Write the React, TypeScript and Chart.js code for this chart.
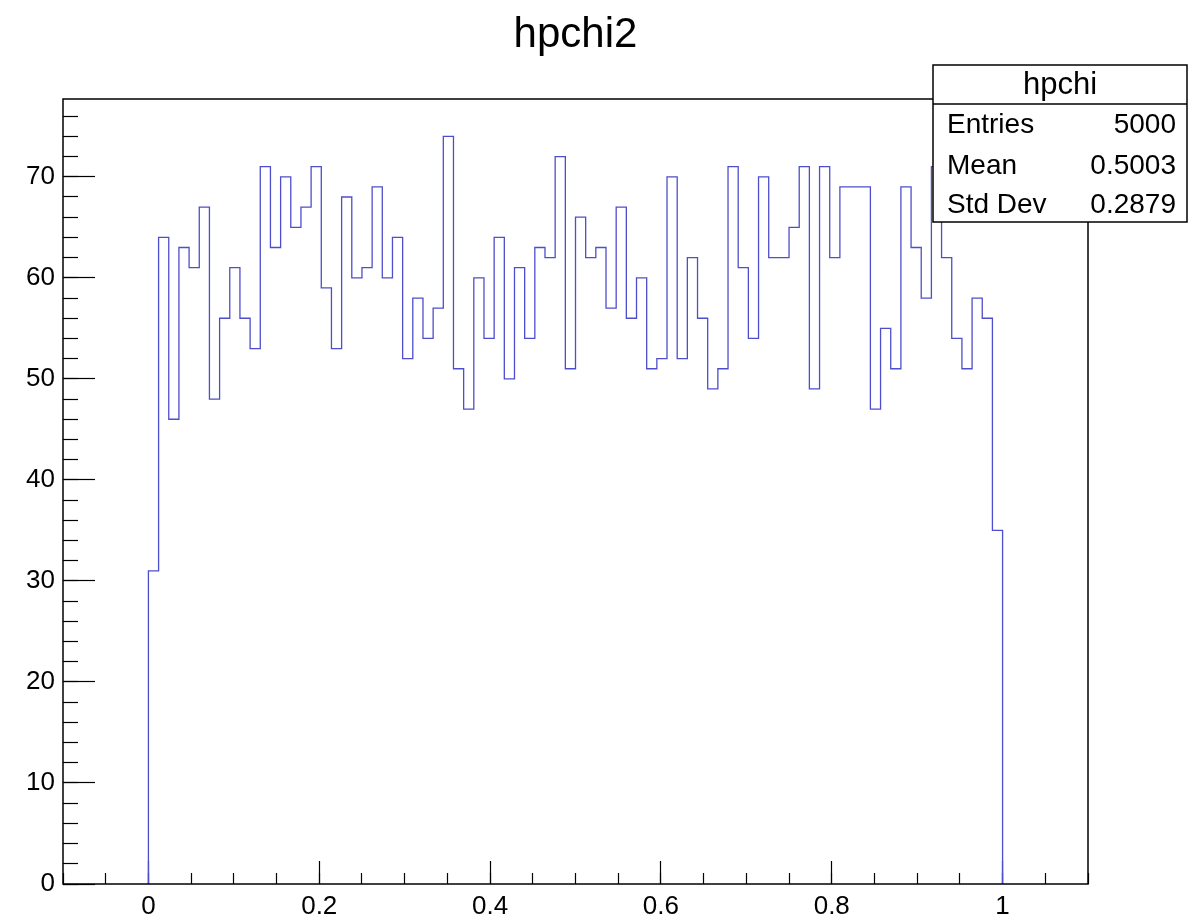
import React, { useEffect, useRef } from 'react';
import { Chart, registerables } from 'chart.js';

Chart.register(...registerables);

// ---- data ----
const histTitle = 'hpchi2';
const histName = 'hpchi';
const binLow = 0;
const binHigh = 1;
const binCounts = [
  31, 64, 46, 63, 61, 67, 48, 56, 61, 56,
  53, 71, 63, 70, 65, 67, 71, 59, 53, 68,
  60, 61, 69, 60, 64, 52, 58, 54, 57, 74,
  51, 47, 60, 54, 64, 50, 61, 54, 63, 62,
  72, 51, 66, 62, 63, 57, 67, 56, 60, 51,
  52, 70, 52, 62, 56, 49, 51, 71, 61, 54,
  70, 62, 62, 65, 71, 49, 71, 62, 69, 69,
  69, 47, 55, 51, 69, 63, 58, 71, 62, 54,
  51, 58, 56, 35,
];
const statsLabels = ['Entries', 'Mean', 'Std Dev'];
const statsValues = ['5000', '0.5003', '0.2879'];

const xRange = [-0.1, 1.1];
const yRange = [0, 77.7];
const xMajorTicks = [0, 0.2, 0.4, 0.6, 0.8, 1];
const xMinorStep = 0.05;
const yMajorTicks = [0, 10, 20, 30, 40, 50, 60, 70];
const yMinorStep = 2;

const FONT = '"Liberation Sans", Arial, Helvetica, sans-serif';
const LINE_COLOR = 'rgb(78, 78, 204)';

function stepTicks(lo: number, hi: number, step: number) {
  const out: { value: number }[] = [];
  const n0 = Math.ceil(lo / step - 1e-9);
  const n1 = Math.floor(hi / step + 1e-9);
  for (let n = n0; n <= n1; n++) out.push({ value: +(n * step).toFixed(6) });
  return out;
}

function tickAxis(pos: 'bottom' | 'left', range: number[], ticks: () => { value: number }[], len: number) {
  return {
    type: 'linear',
    position: pos,
    min: range[0],
    max: range[1],
    weight: 0,
    afterBuildTicks: (s: any) => { s.ticks = ticks(); },
    afterFit: (s: any) => {
      if (pos === 'bottom') s.height = 0; else s.width = 0;
    },
    ticks: { display: false, autoSkip: false },
    grid: { drawOnChartArea: false, drawTicks: true, tickLength: -len, tickColor: '#000', tickWidth: 1.2 },
    border: { display: false },
  };
}

export default function App() {
  const ref = useRef<HTMLCanvasElement>(null);

  useEffect(() => {
    const canvas = ref.current;
    if (!canvas) return;

    const nb = binCounts.length;
    const w = (binHigh - binLow) / nb;
    const pts: { x: number; y: number }[] = [{ x: binLow, y: 0 }];
    binCounts.forEach((c, i) => {
      pts.push({ x: binLow + i * w, y: c });
      pts.push({ x: binLow + (i + 1) * w, y: c });
    });
    pts.push({ x: binHigh, y: 0 });

    const framePlugin = {
      id: 'frame',
      afterDatasetsDraw(chart: any) {
        const { ctx, chartArea: a } = chart;
        ctx.save();
        ctx.strokeStyle = '#000';
        ctx.lineWidth = 1.5;
        ctx.strokeRect(a.left, a.top, a.right - a.left, a.bottom - a.top);
        ctx.restore();
      },
    };

    const statsPlugin = {
      id: 'stats',
      afterDraw(chart: any) {
        const { ctx } = chart;
        const bx = 933, by = 65, bw = 254, bh = 157, sep = 104;
        ctx.save();
        ctx.fillStyle = '#fff';
        ctx.fillRect(bx, by, bw, bh);
        ctx.strokeStyle = '#000';
        ctx.lineWidth = 1.5;
        ctx.strokeRect(bx, by, bw, bh);
        ctx.beginPath();
        ctx.moveTo(bx, sep);
        ctx.lineTo(bx + bw, sep);
        ctx.stroke();
        ctx.fillStyle = '#000';
        ctx.textBaseline = 'middle';
        ctx.textAlign = 'center';
        ctx.font = `31px ${FONT}`;
        ctx.fillText(histName, bx + bw / 2, 85);
        ctx.font = `28px ${FONT}`;
        const rowsY = [125, 166, 205];
        statsLabels.forEach((lab, i) => {
          ctx.textAlign = 'left';
          ctx.fillText(lab, bx + 14, rowsY[i]);
          ctx.textAlign = 'right';
          ctx.fillText(statsValues[i], bx + bw - 11, rowsY[i]);
        });
        ctx.restore();
      },
    };

    const tickFont = { family: FONT, size: 26 };

    const chart = new Chart(canvas, {
      type: 'line',
      data: {
        datasets: [
          {
            data: pts,
            borderColor: LINE_COLOR,
            borderWidth: 1.3,
            pointRadius: 0,
            fill: false,
            tension: 0,
            xAxisID: 'x',
            yAxisID: 'y',
          },
        ],
      },
      options: {
        responsive: false,
        animation: false,
        events: [],
        layout: { padding: { top: 0, right: 115, bottom: 0, left: 0 } },
        plugins: {
          legend: { display: false },
          tooltip: { enabled: false },
          title: {
            display: true,
            fullSize: false,
            text: histTitle,
            color: '#000',
            font: { family: FONT, size: 42, weight: 'normal', lineHeight: 1.2 },
            padding: { top: 10, bottom: 38.6 },
          },
        },
        scales: {
          xMinor: tickAxis('bottom', xRange, () => stepTicks(xRange[0], xRange[1], xMinorStep), 11),
          xMajor: tickAxis('bottom', xRange, () => xMajorTicks.map((v) => ({ value: v })), 23),
          x: {
            type: 'linear',
            position: 'bottom',
            min: xRange[0],
            max: xRange[1],
            weight: 1,
            afterBuildTicks: (s: any) => { s.ticks = xMajorTicks.map((v) => ({ value: v })); },
            afterFit: (s: any) => { s.height = 35; },
            ticks: {
              autoSkip: false,
              maxRotation: 0,
              padding: 7,
              color: '#000',
              font: tickFont,
              callback: (v: any) => String(+(+v).toFixed(2)),
            },
            grid: { drawOnChartArea: false, drawTicks: false },
            border: { display: false },
          },
          yMinor: tickAxis('left', yRange, () => stepTicks(yRange[0], yRange[1], yMinorStep), 15),
          yMajor: tickAxis('left', yRange, () => yMajorTicks.map((v) => ({ value: v })), 32),
          y: {
            type: 'linear',
            position: 'left',
            min: yRange[0],
            max: yRange[1],
            weight: 1,
            afterBuildTicks: (s: any) => { s.ticks = yMajorTicks.map((v) => ({ value: v })); },
            afterFit: (s: any) => { s.width = 63; },
            ticks: {
              autoSkip: false,
              padding: 8,
              color: '#000',
              font: tickFont,
              callback: (v: any) => String(v),
            },
            grid: { drawOnChartArea: false, drawTicks: false },
            border: { display: false },
          },
        },
      } as any,
      plugins: [framePlugin, statsPlugin],
    });

    return () => chart.destroy();
  }, []);

  return (
    <div style={{ position: 'absolute', left: 0, top: 0, width: 1203, height: 919, background: '#fff' }}>
      <canvas ref={ref} width={1203} height={919} style={{ display: 'block', width: 1203, height: 919 }} />
    </div>
  );
}
